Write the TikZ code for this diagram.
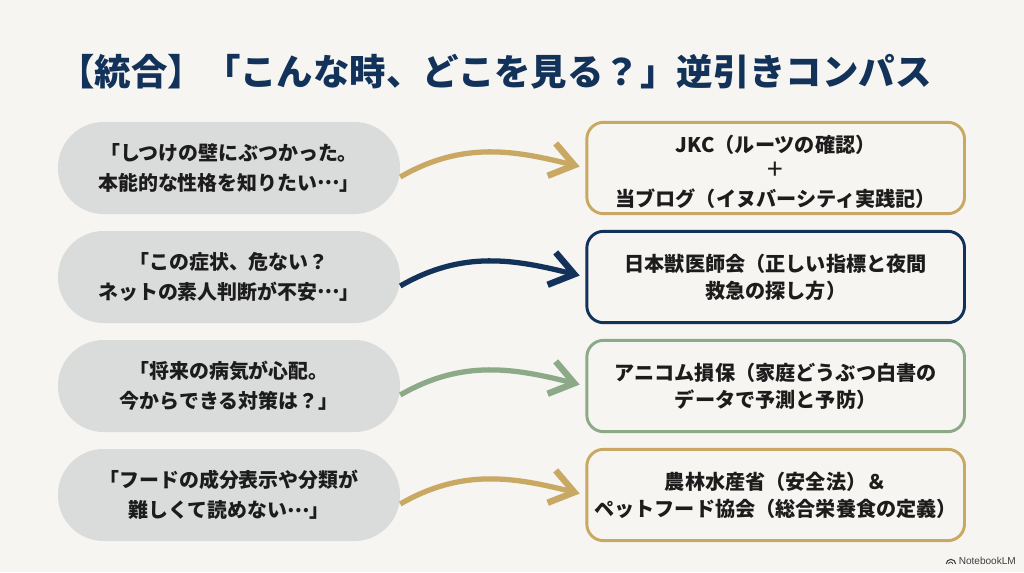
\documentclass[tikz,border=0pt]{standalone}
\usepackage{fontspec}
\setmainfont{Noto Sans CJK JP}
\newfontfamily\logofont{Liberation Sans}
\usetikzlibrary{arrows.meta}
\definecolor{paper}{HTML}{F6F5F1}
\definecolor{pill}{HTML}{DADBDB}
\definecolor{gold}{HTML}{C9A864}
\definecolor{navy}{HTML}{12325A}
\definecolor{sage}{HTML}{8CAA88}
\definecolor{ink}{HTML}{1C1C1C}
\newcommand{\middots}{\raisebox{0.3em}{…}}

\begin{document}
\begin{tikzpicture}[node distance=3.27cm,
  ask node/.style={rectangle,rounded corners=1.37cm,fill=pill,text=ink,minimum width=10.26cm,minimum height=2.76cm,align=center,font=\fontsize{17}{26}\selectfont\bfseries},
  goal node/.style={rectangle,rounded corners=0.5cm,fill=paper,draw=#1,line width=2.5pt,text=ink,minimum width=11.33cm,minimum height=2.74cm,align=center,font=\fontsize{17.2}{23}\selectfont\bfseries},
  flow/.style={-{Straight Barb[length=7mm,width=10mm,line width=5.5pt]},line width=4.5pt,draw=#1,shorten >=5pt,out=30,in=166,looseness=1}]

 \fill[paper] (0,0) rectangle (30.72,17.16);

 \node[font=\fontsize{31.1}{36}\selectfont\bfseries,text=navy] (title) at (14.85,15.0) {【統合】「こんな時、どこを見る？」逆引きコンパス};

 \node[ask node] (q1) at (6.87,12.12) {「しつけの壁にぶつかった。\\本能的な性格を知りたい\middots」};
 \node[ask node] (q2) [below of=q1] {「この症状、危ない？\\ネットの素人判断が不安\middots」};
 \node[ask node] (q3) [below of=q2] {「将来の病気が心配。\\今からできる対策は？」};
 \node[ask node] (q4) [below of=q3] {「フードの成分表示や分類が\\難しくて読めない\middots」};

 \node[goal node=gold] (a1) at (23.27,12.12) {\rule{0pt}{21pt}JKC（ルーツの確認）\\{\mdseries\fontsize{24}{23}\selectfont +}\\当ブログ（イヌバーシティ実践記）};
 \node[goal node=navy] (a2) [below of=a1] {日本獣医師会（正しい指標と夜間\\救急の探し方）};
 \node[goal node=sage] (a3) [below of=a2] {アニコム損保（家庭どうぶつ白書の\\データで予測と予防）};
 \node[goal node=gold] (a4) [below of=a3] {農林水産省（安全法）＆\\ペットフード協会（総合栄養食の定義）};

 \path
    (q1.-3)	edge [flow=gold] (a1.west)
    (q2.-3)	edge [flow=navy] (a2.west)
    (q3.-3)	edge [flow=sage] (a3.west)
    (q4.-3)	edge [flow=gold] (a4.west);

 \node[font=\fontsize{8.6}{10}\selectfont\logofont,text=ink!85,anchor=east] (brand) at (30.6,0.33) {NotebookLM};
 \draw[ink!85,line width=0.9pt] ([xshift=0.03cm,yshift=-0.09cm]brand.west) arc[start angle=0,end angle=180,radius=0.14];
 \draw[ink!85,line width=0.7pt] ([xshift=-0.06cm,yshift=-0.09cm]brand.west) arc[start angle=0,end angle=180,radius=0.06];

\end{tikzpicture}
\end{document}
